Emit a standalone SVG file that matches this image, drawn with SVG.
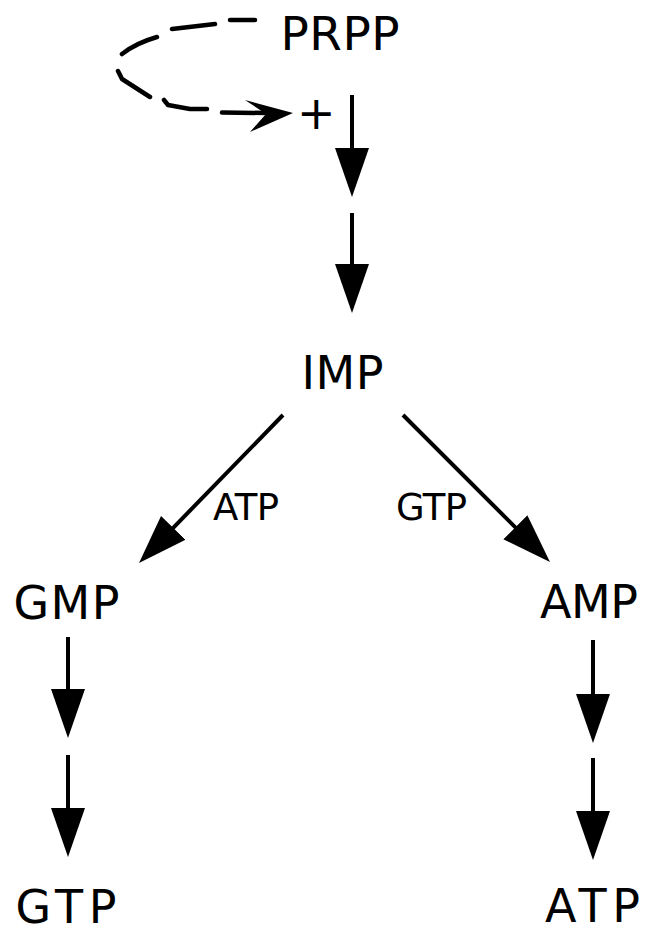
<svg xmlns="http://www.w3.org/2000/svg" width="649" height="935" viewBox="0 0 649 935">
<style>
text{font-family:"DejaVu Sans","Liberation Sans",sans-serif;fill:#000}
.big{font-size:46px}
.small{font-size:37px}
.conn{stroke:#000;stroke-width:4;fill:none}
.dash{stroke:#000;stroke-width:4.5;fill:none;stroke-linecap:round;stroke-linejoin:round}
</style>
<defs>
<marker id="ah" viewBox="0 0 49 34" refX="39" refY="17" markerWidth="49" markerHeight="34" markerUnits="userSpaceOnUse" orient="auto">
<path d="M0,0 L49,17 L0,34 Z" fill="#000"/>
</marker>
</defs>
<g id="PRPP"><text x="280.5" y="50" style="font-size:47px" textLength="119" lengthAdjust="spacing">PRPP</text></g>
<g id="plus"><text x="297" y="129" class="big">+</text></g>
<g id="IMP"><text x="301.5" y="389" class="big" textLength="82" lengthAdjust="spacing">IMP</text></g>
<g id="GMP"><text x="13.4" y="619" class="big" textLength="106" lengthAdjust="spacing">GMP</text></g>
<g id="AMP"><text x="540" y="618" class="big" textLength="98" lengthAdjust="spacing">AMP</text></g>
<g id="GTP"><text x="15.4" y="923" class="big" textLength="101" lengthAdjust="spacing">GTP</text></g>
<g id="ATP"><text x="545" y="922" class="big" textLength="95" lengthAdjust="spacing">ATP</text></g>
<g id="label-ATP"><text x="213" y="520" class="small" textLength="66" lengthAdjust="spacing">ATP</text></g>
<g id="label-GTP"><text x="396" y="520" class="small" textLength="71" lengthAdjust="spacing">GTP</text></g>
<g id="connectors">
<path class="dash" d="M230,20 L255,20 M172,29 L215,24 M157,37 Q136,43 122,54 M118,71 L122,79 L150,97 M164,100 L168,105 L190,109 L207,109 M222,112.5 L266,113"/>
<path d="M245,100 L293,113 L250,132 L266,114 Z" fill="#000"/>
<line class="conn" x1="352" y1="95" x2="352" y2="187" marker-end="url(#ah)"/>
<line class="conn" x1="352" y1="213" x2="352" y2="303" marker-end="url(#ah)"/>
<line class="conn" x1="283" y1="415" x2="146" y2="555.8" marker-end="url(#ah)"/>
<line class="conn" x1="403" y1="415" x2="542.9" y2="554.9" marker-end="url(#ah)"/>
<line class="conn" x1="68" y1="637" x2="68" y2="728" marker-end="url(#ah)"/>
<line class="conn" x1="68" y1="755" x2="68" y2="847" marker-end="url(#ah)"/>
<line class="conn" x1="593" y1="640" x2="593" y2="733" marker-end="url(#ah)"/>
<line class="conn" x1="593" y1="758" x2="593" y2="850" marker-end="url(#ah)"/>
</g>
</svg>
